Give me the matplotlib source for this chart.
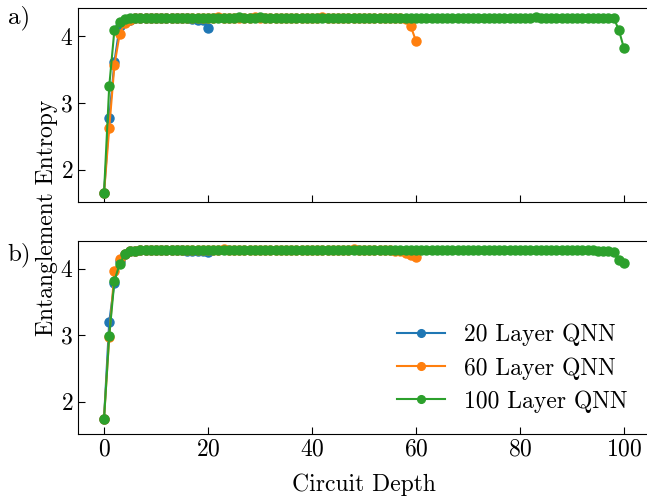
import matplotlib
matplotlib.use("Agg")
import matplotlib.pyplot as plt

plt.rcParams['font.family'] = ['cmr10', 'DejaVu Serif']
plt.rcParams['mathtext.fontset'] = 'cm'
plt.rcParams['axes.formatter.use_mathtext'] = True
plt.rcParams['font.size'] = 17

labels = ["20 Layer QNN", "60 Layer QNN", "100 Layer QNN"]
colors = ["#1f77b4", "#ff7f0e", "#2ca02c"]

# Panel a)
a_20 = [1.65, 2.77, 3.62, 4.15, 4.21, 4.25, 4.27, 4.27, 4.28, 4.27, 4.28, 4.27, 4.27, 4.28,
        4.28, 4.27, 4.27, 4.26, 4.25, 4.24, 4.13]
a_60 = [1.65, 2.62, 3.57, 4.03, 4.20, 4.25, 4.27, 4.28, 4.28, 4.27, 4.28, 4.28, 4.27, 4.28,
        4.28, 4.27, 4.28, 4.28, 4.28, 4.27, 4.28, 4.28, 4.29, 4.28, 4.28, 4.27, 4.28, 4.28,
        4.28, 4.29, 4.28, 4.28, 4.28, 4.27, 4.28, 4.28, 4.28, 4.28, 4.27, 4.28, 4.28, 4.28,
        4.29, 4.28, 4.28, 4.28, 4.27, 4.28, 4.28, 4.28, 4.28, 4.28, 4.27, 4.28, 4.28, 4.28,
        4.28, 4.27, 4.26, 4.15, 3.93]
a_100 = [1.65, 3.25, 4.10, 4.22, 4.26, 4.27, 4.28, 4.28, 4.28, 4.28, 4.28, 4.27, 4.28, 4.28,
         4.28, 4.28, 4.27, 4.28, 4.28, 4.28, 4.28, 4.28, 4.28, 4.27, 4.28, 4.28, 4.29, 4.28,
         4.28, 4.28, 4.29, 4.28, 4.28, 4.28, 4.28, 4.27, 4.28, 4.28, 4.28, 4.28, 4.28, 4.27,
         4.28, 4.28, 4.28, 4.28, 4.28, 4.28, 4.28, 4.28, 4.27, 4.28, 4.28, 4.28, 4.28, 4.28,
         4.28, 4.28, 4.28, 4.28, 4.28, 4.28, 4.28, 4.27, 4.28, 4.28, 4.28, 4.28, 4.28, 4.28,
         4.28, 4.28, 4.28, 4.28, 4.28, 4.28, 4.28, 4.28, 4.27, 4.28, 4.28, 4.28, 4.28, 4.29,
         4.28, 4.28, 4.28, 4.28, 4.28, 4.28, 4.28, 4.28, 4.28, 4.28, 4.28, 4.28, 4.28, 4.28,
         4.28, 4.10, 3.82]

# Panel b)
b_20 = [1.75, 3.20, 3.79, 4.12, 4.22, 4.26, 4.27, 4.28, 4.28, 4.28, 4.28, 4.28, 4.28, 4.28,
        4.28, 4.28, 4.27, 4.27, 4.27, 4.26, 4.25]
b_60 = [1.75, 2.98, 3.96, 4.14, 4.22, 4.26, 4.27, 4.28, 4.28, 4.28, 4.28, 4.28, 4.28, 4.28,
        4.28, 4.28, 4.28, 4.28, 4.28, 4.28, 4.28, 4.28, 4.28, 4.29, 4.28, 4.28, 4.28, 4.28,
        4.28, 4.28, 4.28, 4.28, 4.28, 4.28, 4.28, 4.28, 4.28, 4.28, 4.28, 4.28, 4.28, 4.28,
        4.28, 4.28, 4.28, 4.28, 4.28, 4.28, 4.29, 4.28, 4.28, 4.28, 4.28, 4.28, 4.28, 4.28,
        4.27, 4.26, 4.24, 4.20, 4.17]
b_100 = [1.75, 2.99, 3.82, 4.07, 4.22, 4.26, 4.27, 4.28, 4.28, 4.28, 4.28, 4.28, 4.28, 4.28,
         4.28, 4.28, 4.28, 4.28, 4.28, 4.28, 4.28, 4.28, 4.28, 4.28, 4.28, 4.28, 4.28, 4.28,
         4.28, 4.28, 4.28, 4.28, 4.28, 4.28, 4.28, 4.28, 4.28, 4.28, 4.28, 4.28, 4.28, 4.28,
         4.28, 4.28, 4.28, 4.28, 4.28, 4.28, 4.28, 4.28, 4.28, 4.28, 4.28, 4.28, 4.28, 4.28,
         4.28, 4.28, 4.28, 4.28, 4.28, 4.28, 4.28, 4.28, 4.28, 4.28, 4.28, 4.28, 4.28, 4.28,
         4.28, 4.28, 4.28, 4.28, 4.28, 4.28, 4.28, 4.28, 4.28, 4.28, 4.28, 4.28, 4.28, 4.28,
         4.28, 4.28, 4.28, 4.28, 4.28, 4.28, 4.28, 4.28, 4.28, 4.28, 4.28, 4.27, 4.27, 4.26,
         4.25, 4.13, 4.09]

fig = plt.figure(figsize=(6.47, 4.96), dpi=100)
ax1 = fig.add_axes([0.1206, 0.5933, 0.884, 0.390])
ax2 = fig.add_axes([0.1206, 0.125, 0.884, 0.390], sharex=ax1, sharey=ax1)

for ax, series in ((ax1, (a_20, a_60, a_100)), (ax2, (b_20, b_60, b_100))):
    for s, c, l in zip(series, colors, labels):
        ax.plot(range(len(s)), s, '-o', color=c, label=l, markersize=6.5, linewidth=1.5)
    ax.tick_params(direction='in', length=5, width=0.8, labelsize=17)

ax1.tick_params(labelbottom=False)
ax1.set_yticks([2, 3, 4])
ax2.set_xticks([0, 20, 40, 60, 80, 100])
ax2.set_xlabel("Circuit Depth", fontsize=17, labelpad=9)
fig.text(0.072, 0.56, "Entanglement Entropy", rotation=90, ha='center', va='center', fontsize=17)
fig.text(0.012, 0.964, "a)", fontsize=18, ha='left', va='center')
fig.text(0.012, 0.486, "b)", fontsize=18, ha='left', va='center')

ax2.legend(loc='lower right', frameon=False, fontsize=17, handlelength=2.0,
           labelspacing=0.45, markerscale=0.85, bbox_to_anchor=(0.997, 0.0))

fig.savefig("out.png", dpi=100)
